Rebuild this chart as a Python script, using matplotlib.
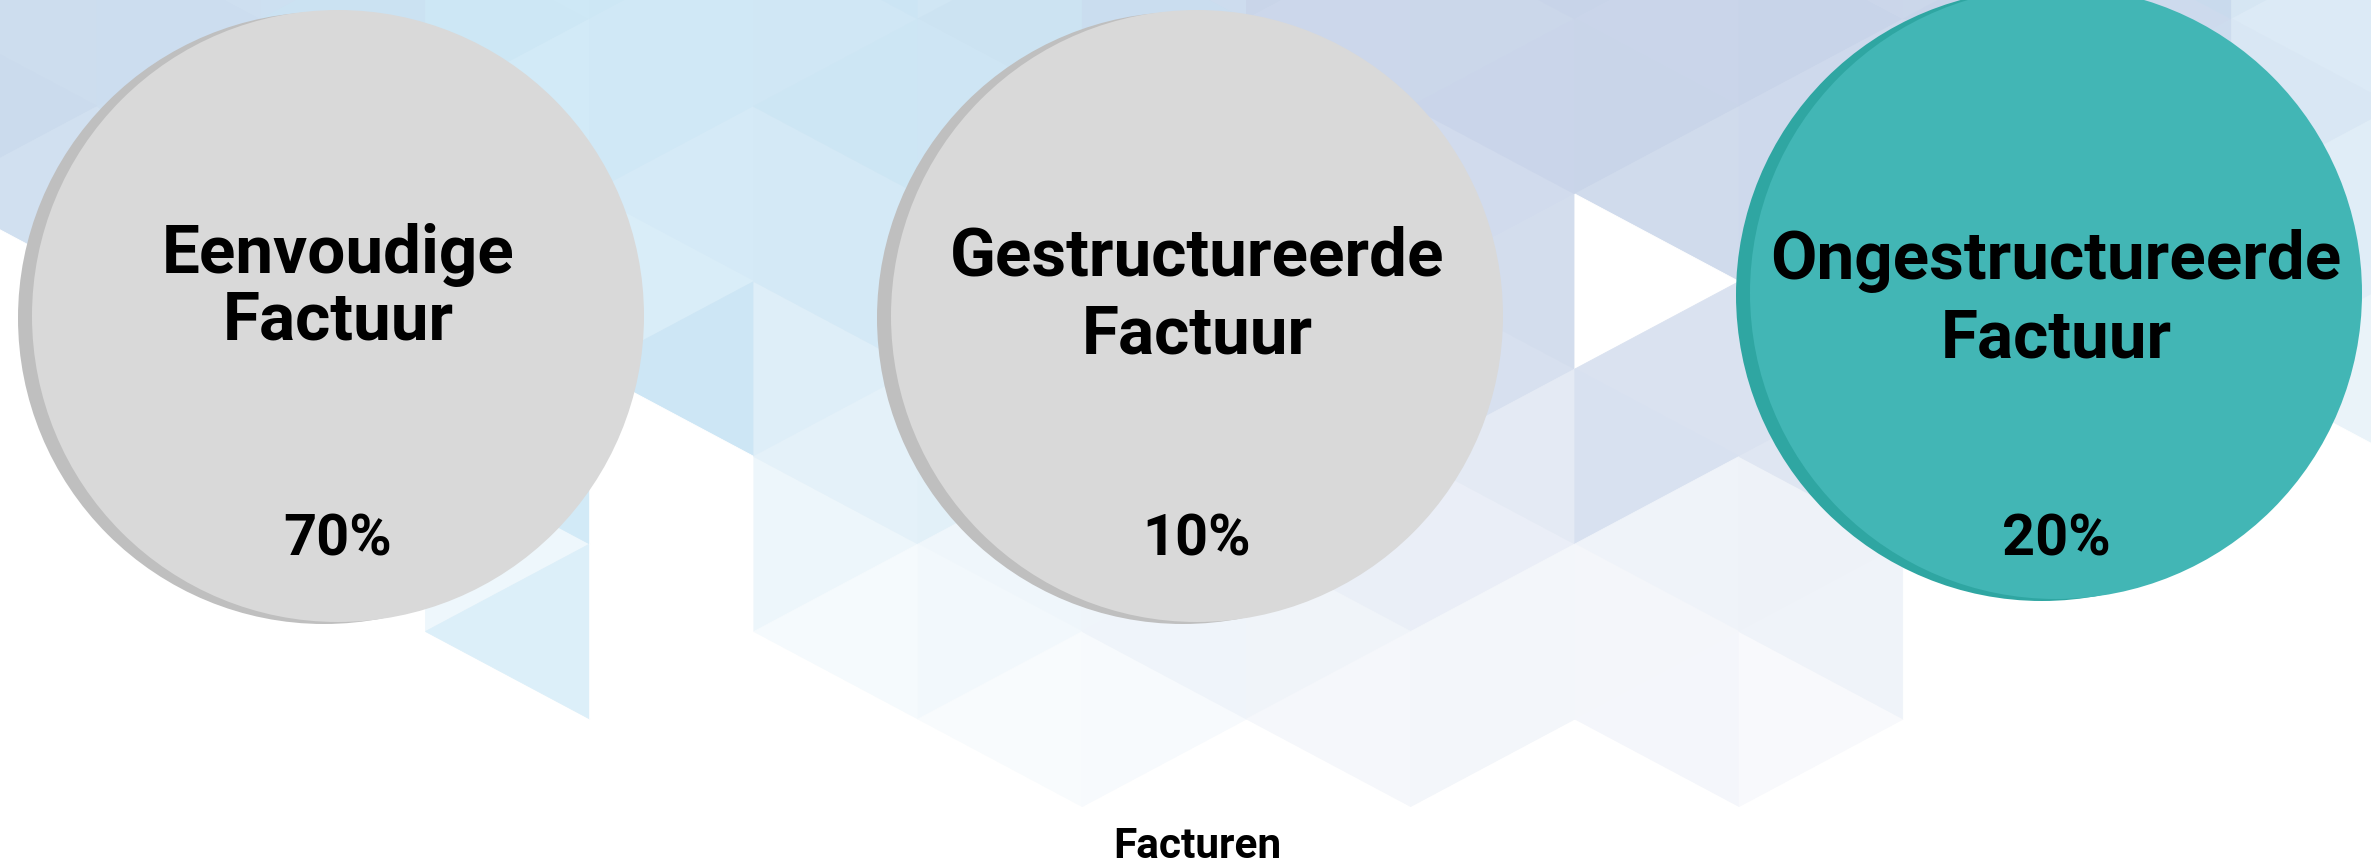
import numpy as np
import matplotlib.pyplot as plt
from matplotlib.patches import Circle, Polygon

plt.rcParams['font.family'] = ['Roboto', 'DejaVu Sans']

# --- data ---
categories = ['Eenvoudige\nFactuur', 'Gestructureerde\nFactuur', 'Ongestructureerde\nFactuur']
shares = [70, 10, 20]
highlight = 'Ongestructureerde\nFactuur'
chart_title = 'Facturen'

# --- style ---
W, H = 2371, 867
GRAY, GRAY_SHADOW = '#d9d9d9', '#bfbfbf'
TEAL, TEAL_SHADOW = '#42b6b5', '#2fa6a2'
LAV = np.array([0xc8, 0xd4, 0xe9]) / 255
SKY = np.array([0xcd, 0xe8, 0xf6]) / 255

fig = plt.figure(figsize=(W / 100, H / 100), dpi=100)
ax = fig.add_axes([0, 0, 1, 1])
ax.set_xlim(0, W)
ax.set_ylim(H, 0)
ax.axis('off')

# --- background: triangle lattice, fading out toward the bottom ---
col_w, tri_h = 164.2, 175.0
x0, y0 = 589.7, 19.0
# triangles that stand out from the general fade: (strip, row, kind) -> whiteness
special = {(6, 1, 'A'): 1.0, (6, 2, 'A'): 0.3,
           (-1, 2, 'B'): 0.1, (-1, 3, 'B'): 0.3, (-1, 3, 'A'): 1.0,
           (0, 1, 'B'): 0.0, (0, 2, 'A'): 1.0, (0, 2, 'B'): 1.0,
           (0, 3, 'A'): 1.0, (0, 3, 'B'): 1.0}


def whiteness(cx, cy, k, j, kind):
    if (k, j, kind) in special:
        return special[(k, j, kind)]
    m = np.interp(cy, [0, 180, 380, 560, 760], [0.02, 0.1, 0.3, 0.7, 0.85])
    m += [0, 0.05, -0.04, 0.03, -0.05, 0.04, -0.02][(k * 3 + j * 5 + (kind == 'B')) % 7]
    if cx > 2250:
        m += 0.25
    if cx < 430 and cy > 220:
        m = 1.0
    if cx > 1950 and cy > 430:
        m = 1.0
    if cx < 1000 and cy > 700:
        m = 1.0
    return float(np.clip(m, 0, 1))


def base_color(cx, cy):
    lav = np.interp(cx, [0, 300, 500, 1000, 1300, 2050, 2371], [0.7, 0.5, 0.0, 0.2, 1.0, 1.0, 0.3])
    return lav * LAV + (1 - lav) * SKY


for k in range(-4, 11):
    xa, xb = x0 + k * col_w, x0 + (k + 1) * col_w
    off = y0 + (tri_h / 2 if k % 2 else 0)
    off_next = y0 + (tri_h / 2 if (k + 1) % 2 else 0)
    for j in range(-2, 6):
        ya, yb = off + j * tri_h, off_next + j * tri_h
        tris = {'A': [(xa, ya), (xa, ya + tri_h), (xb, ya + tri_h / 2)],
                'B': [(xb, yb), (xb, yb + tri_h), (xa, yb + tri_h / 2)]}
        for kind, pts in tris.items():
            pts = np.array(pts)
            if pts[:, 1].max() > 812:
                continue
            cx, cy = pts.mean(axis=0)
            m = whiteness(cx, cy, k, j, kind)
            c = (1 - m) * base_color(cx, cy) + m * np.ones(3)
            ax.add_patch(Polygon(pts, closed=True, facecolor=c, edgecolor=c, lw=0.6, zorder=1))

# --- circles ---
x_first, x_step, r = 338, 859, 306
line1_y = [273, 276, 279]
line_gap = [66, 78, 79]
for i, (cat, val) in enumerate(zip(categories, shares)):
    cx = x_first + i * x_step
    cy = 293 if cat == highlight else 316
    face, shade = (TEAL, TEAL_SHADOW) if cat == highlight else (GRAY, GRAY_SHADOW)
    ax.add_patch(Circle((cx - 14, cy + 2), r, facecolor=shade, edgecolor='none', zorder=3))
    ax.add_patch(Circle((cx, cy), r, facecolor=face, edgecolor='none', zorder=4))
    for n, line in enumerate(cat.split('\n')):
        ax.text(cx, line1_y[i] + n * line_gap[i], line, ha='center', va='baseline',
                fontsize=48.5, fontweight='bold', color='black', zorder=5)
    ax.text(cx, 556, f'{val}%', ha='center', va='baseline',
            fontsize=41.5, fontweight='bold', color='black', zorder=5)

ax.text(W / 2 + 12, 858, chart_title, ha='center', va='baseline',
        fontsize=30.5, fontweight='bold', color='black', zorder=5)

fig.savefig('out.png', dpi=100, facecolor='white')
